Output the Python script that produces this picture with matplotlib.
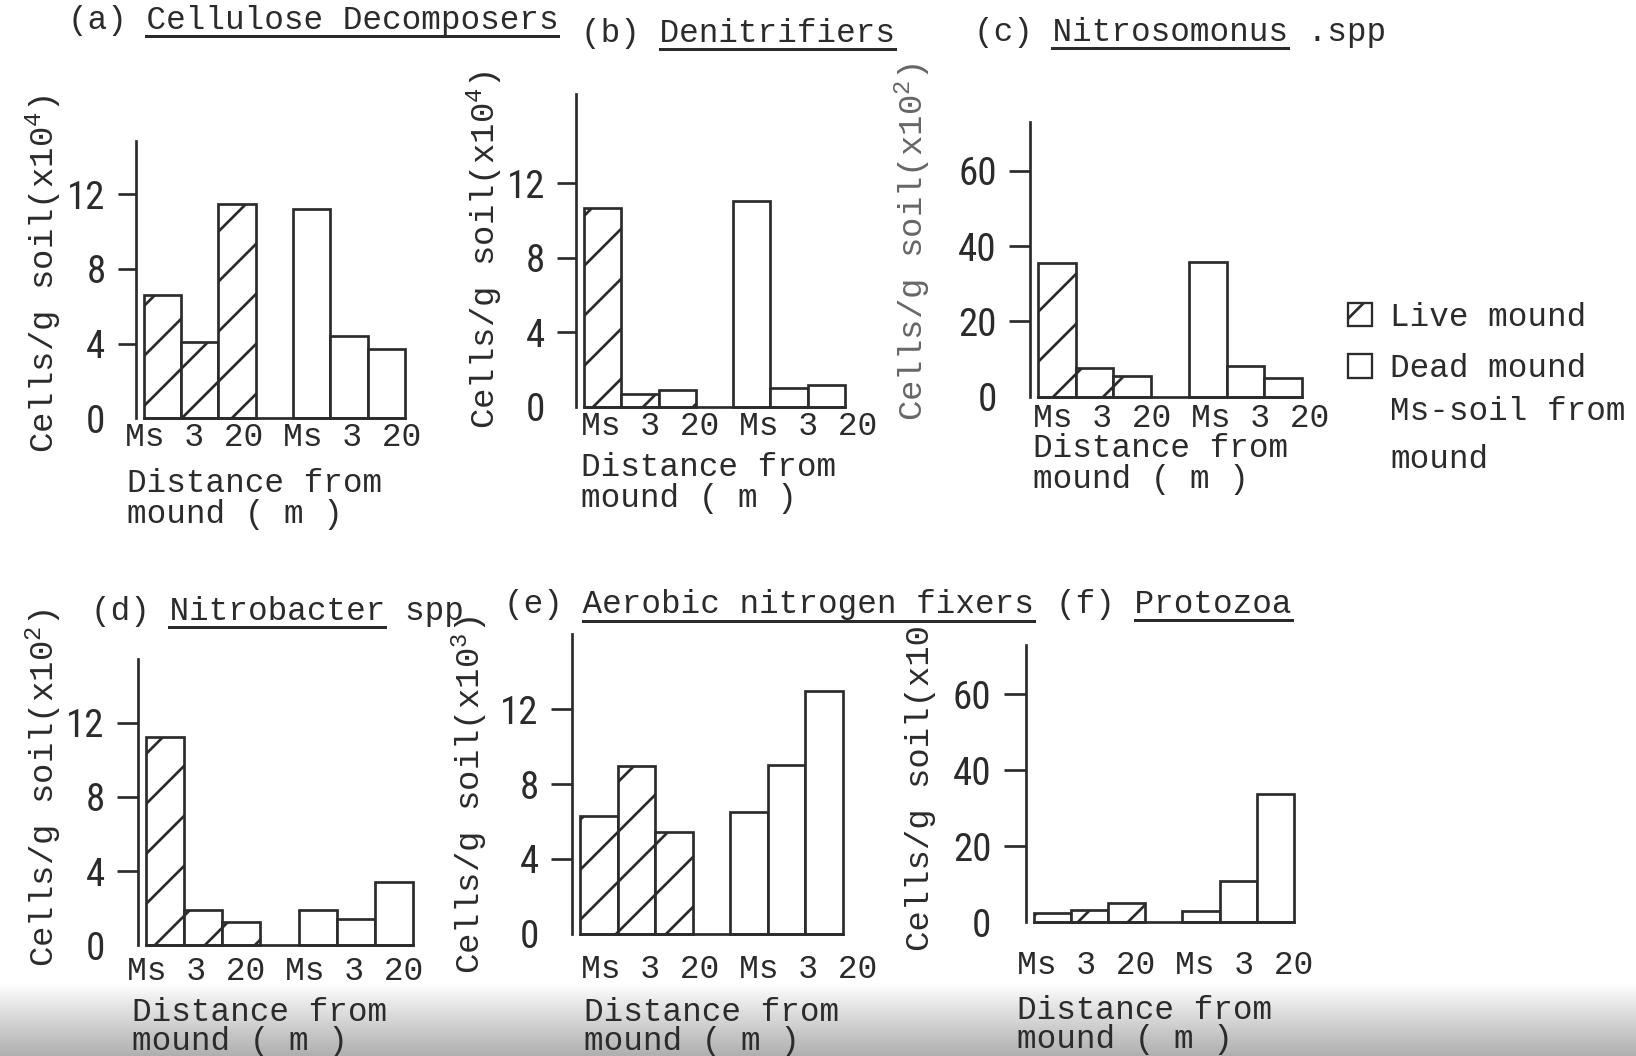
import matplotlib
matplotlib.use('Agg')
import matplotlib.pyplot as plt
import numpy as np
from matplotlib import font_manager
from matplotlib.lines import Line2D
from matplotlib.patches import Patch

DPI = 300
W_PX, H_PX = 1636, 1056
INK = '#2b2b2b'

# ---- data ----
DISTANCES = ['Ms', '3', '20']
PANEL_TAGS = ['(a)', '(b)', '(c)', '(d)', '(e)', '(f)']
TITLES = ['Cellulose Decomposers', 'Denitrifiers', 'Nitrosomonus',
          'Nitrobacter', 'Aerobic nitrogen fixers', 'Protozoa']
TITLE_TAILS = ['', '', ' .spp', ' spp', '', '']
Y_EXPONENTS = ['4', '4', '2', '2', '3', None]

LIVE_A = [6.6, 4.1, 11.5]
DEAD_A = [11.2, 4.4, 3.7]
LIVE_B = [10.7, 0.7, 0.9]
DEAD_B = [11.05, 1.0, 1.2]
LIVE_C = [35.4, 7.5, 5.5]
DEAD_C = [35.8, 8.0, 5.0]
LIVE_D = [11.2, 1.9, 1.25]
DEAD_D = [1.9, 1.4, 3.4]
LIVE_E = [6.3, 8.95, 5.45]
DEAD_E = [6.5, 9.0, 13.0]
LIVE_F = [2.6, 3.3, 5.2]
DEAD_F = [3.0, 10.9, 33.7]

LIVE = [LIVE_A, LIVE_B, LIVE_C, LIVE_D, LIVE_E, LIVE_F]
DEAD = [DEAD_A, DEAD_B, DEAD_C, DEAD_D, DEAD_E, DEAD_F]

TICKS_SMALL = [0, 4, 8, 12]
TICKS_LARGE = [0, 20, 40, 60]
Y_TICKS = [TICKS_SMALL, TICKS_SMALL, TICKS_LARGE, TICKS_SMALL, TICKS_SMALL, TICKS_LARGE]

LEGEND_LABELS = ['Live mound', 'Dead mound']
LEGEND_NOTE = ['Ms-soil from', 'mound']

# ---- layout, in pixels of the 1636x1056 page ----
# (y-axis x, right end of bars, top of y-axis, zero line)
BOXES = [(135.6, 404.8, 140.9, 418.4), (576, 845, 93.9, 406.9), (1029.8, 1302, 122, 396.5),
         (137.7, 413, 659.4, 945.3), (571.8, 843, 634.4, 933.8), (1025.6, 1294, 644.8, 922.4)]
Y_TOPS = [14.85, 16.8, 73, 15.4, 16.0, 73]
TICK_LEN_PX = [18, 19, 21, 21, 21, 22]
TITLE_POS = [(67.8, 29.2), (581, 41.7), (973.5, 40.7), (90.8, 619.8), (504, 613.5), (1056, 612.5)]
YLABEL_POS = [(44, 274), (485, 250), (913, 242), (44, 788), (470, 795), (921, 788)]
YLABEL_INK = [INK, INK, '#666666', INK, INK, INK]
# typed distance line under the bars: left edge, baseline
XTICK_POS = [(125.2, 445.5), (581, 435), (1033, 426.8), (127.3, 979.8), (581, 977.7), (1017, 974.5)]
XLABEL_POS = [(127.3, 492.5), (581, 475.8), (1033, 457), (132.5, 1021), (584, 1021), (1017, 1019)]
XLABEL_GAP = [31, 31, 31, 29, 29, 29]

# sizes in page pixels, turned into points with pt()
TYPE_PX = 32.7
TICKLINE_PX = 33.0
LABEL_PX = 34.0
NUM_PX = 39.0
LINE_PX = 2.7


def pt(px):
    return px * 72.0 / DPI


def pick_font(names):
    available = {f.name for f in font_manager.fontManager.ttflist}
    for n in names:
        if n in available:
            return n
    return 'DejaVu Sans'


MONO = pick_font(['Liberation Mono', 'DejaVu Sans Mono'])
NUM_FONT = pick_font(['Liberation Sans Narrow', 'Roboto Condensed', 'DejaVu Sans'])


def fx(px):
    return px / W_PX


def fy(py):
    return 1 - py / H_PX


def typed(fig, x, y, s, size_px=TYPE_PX):
    return fig.text(fx(x), fy(y), s, ha='left', va='baseline', family=MONO,
                    fontsize=pt(size_px), color=INK)


def draw_panel(fig, i):
    x0, x1, ytop, yzero = BOXES[i]
    ax = fig.add_axes([fx(x0), fy(yzero), fx(x1 - x0), (yzero - ytop) / H_PX])
    pos = list(range(3)) + [k + 4 for k in range(3)]
    ax.bar(pos[:3], LIVE[i], width=1.0, facecolor='white', edgecolor=INK,
           hatch='//', linewidth=pt(LINE_PX), clip_on=False)
    ax.bar(pos[3:], DEAD[i], width=1.0, facecolor='white', edgecolor=INK,
           linewidth=pt(LINE_PX), clip_on=False)
    ax.set_xlim(-0.72, 6.5)
    ax.set_ylim(0, Y_TOPS[i])
    ax.patch.set_alpha(0)

    for s in ('top', 'right'):
        ax.spines[s].set_visible(False)
    for s in ('left', 'bottom'):
        ax.spines[s].set_color(INK)
        ax.spines[s].set_linewidth(pt(LINE_PX))
    ax.spines['bottom'].set_bounds(-0.5, 6.5)

    ax.set_yticks(Y_TICKS[i])
    ax.set_yticklabels([str(t) for t in Y_TICKS[i]], family=NUM_FONT,
                       fontsize=pt(NUM_PX), color=INK)
    ax.tick_params(axis='y', direction='out', length=pt(TICK_LEN_PX[i]),
                   width=pt(LINE_PX), color=INK, pad=pt(12))
    ax.yaxis.get_major_ticks()[0].tick1line.set_visible(False)
    ax.set_xticks([])

    # distances were typed as one line under the bars
    tx, tyy = XTICK_POS[i]
    typed(fig, tx, tyy, ' '.join(DISTANCES * 2), TICKLINE_PX)

    # y label (stencil lettering in the original)
    ylab = 'Cells/g soil(x10'
    if Y_EXPONENTS[i]:
        ylab += '$^{' + Y_EXPONENTS[i] + '}$)'
    lx, ly = YLABEL_POS[i]
    fig.text(fx(lx), fy(ly), ylab, rotation=90, ha='center', va='center',
             family=MONO, fontsize=pt(LABEL_PX), color=YLABEL_INK[i])

    # x label, two typed lines
    bx, by = XLABEL_POS[i]
    typed(fig, bx, by, 'Distance from')
    typed(fig, bx, by + XLABEL_GAP[i], 'mound ( m )')

    # title, name gets underlined later
    px, py = TITLE_POS[i]
    return typed(fig, px, py, PANEL_TAGS[i] + ' ' + TITLES[i] + TITLE_TAILS[i])


def main():
    plt.rcParams['mathtext.default'] = 'regular'
    plt.rcParams['hatch.linewidth'] = pt(LINE_PX)
    fig = plt.figure(figsize=(W_PX / DPI, H_PX / DPI), dpi=DPI)
    fig.patch.set_facecolor('white')

    # scanner shadow along the bottom of the page
    shade = fig.add_axes([0, 0, 1, 0.07], zorder=-10)
    grad = np.linspace(1.0, 0.78, 64) ** 1.5
    shade.imshow(grad.reshape(-1, 1), aspect='auto', cmap='gray', vmin=0, vmax=1,
                 extent=(0, 1, 0, 1), origin='upper')
    shade.set_axis_off()

    titles = [draw_panel(fig, i) for i in range(6)]

    # underline the organism names
    fig.canvas.draw()
    renderer = fig.canvas.get_renderer()
    for i, t in enumerate(titles):
        bb = t.get_window_extent(renderer)
        cw = bb.width / len(t.get_text())
        start = len(PANEL_TAGS[i]) + 1
        stop = start + len(TITLES[i])
        xs = [(bb.x0 + start * cw) / W_PX, (bb.x0 + stop * cw) / W_PX]
        fig.add_artist(Line2D(xs, [fy(TITLE_POS[i][1] + 7)] * 2, transform=fig.transFigure,
                              color=INK, linewidth=pt(3)))

    # legend key is small, so give its hatch a tighter pitch to show a stroke
    handles = [Patch(facecolor='white', edgecolor=INK, hatch='///', linewidth=pt(2.3)),
               Patch(facecolor='white', edgecolor=INK, linewidth=pt(2.3))]
    leg = fig.legend(handles, LEGEND_LABELS, loc='upper left',
                     bbox_to_anchor=(fx(1348), fy(302)), frameon=False,
                     prop={'family': MONO, 'size': pt(TYPE_PX)},
                     handlelength=0.72, handleheight=0.72, handletextpad=0.55,
                     labelspacing=0.62, borderpad=0, borderaxespad=0)
    for txt in leg.get_texts():
        txt.set_color(INK)
    typed(fig, 1390, 419.5, LEGEND_NOTE[0])
    typed(fig, 1390, 468.5, LEGEND_NOTE[1])

    fig.savefig('out.png', dpi=DPI, facecolor='white')
    plt.close(fig)


if __name__ == '__main__':
    main()
